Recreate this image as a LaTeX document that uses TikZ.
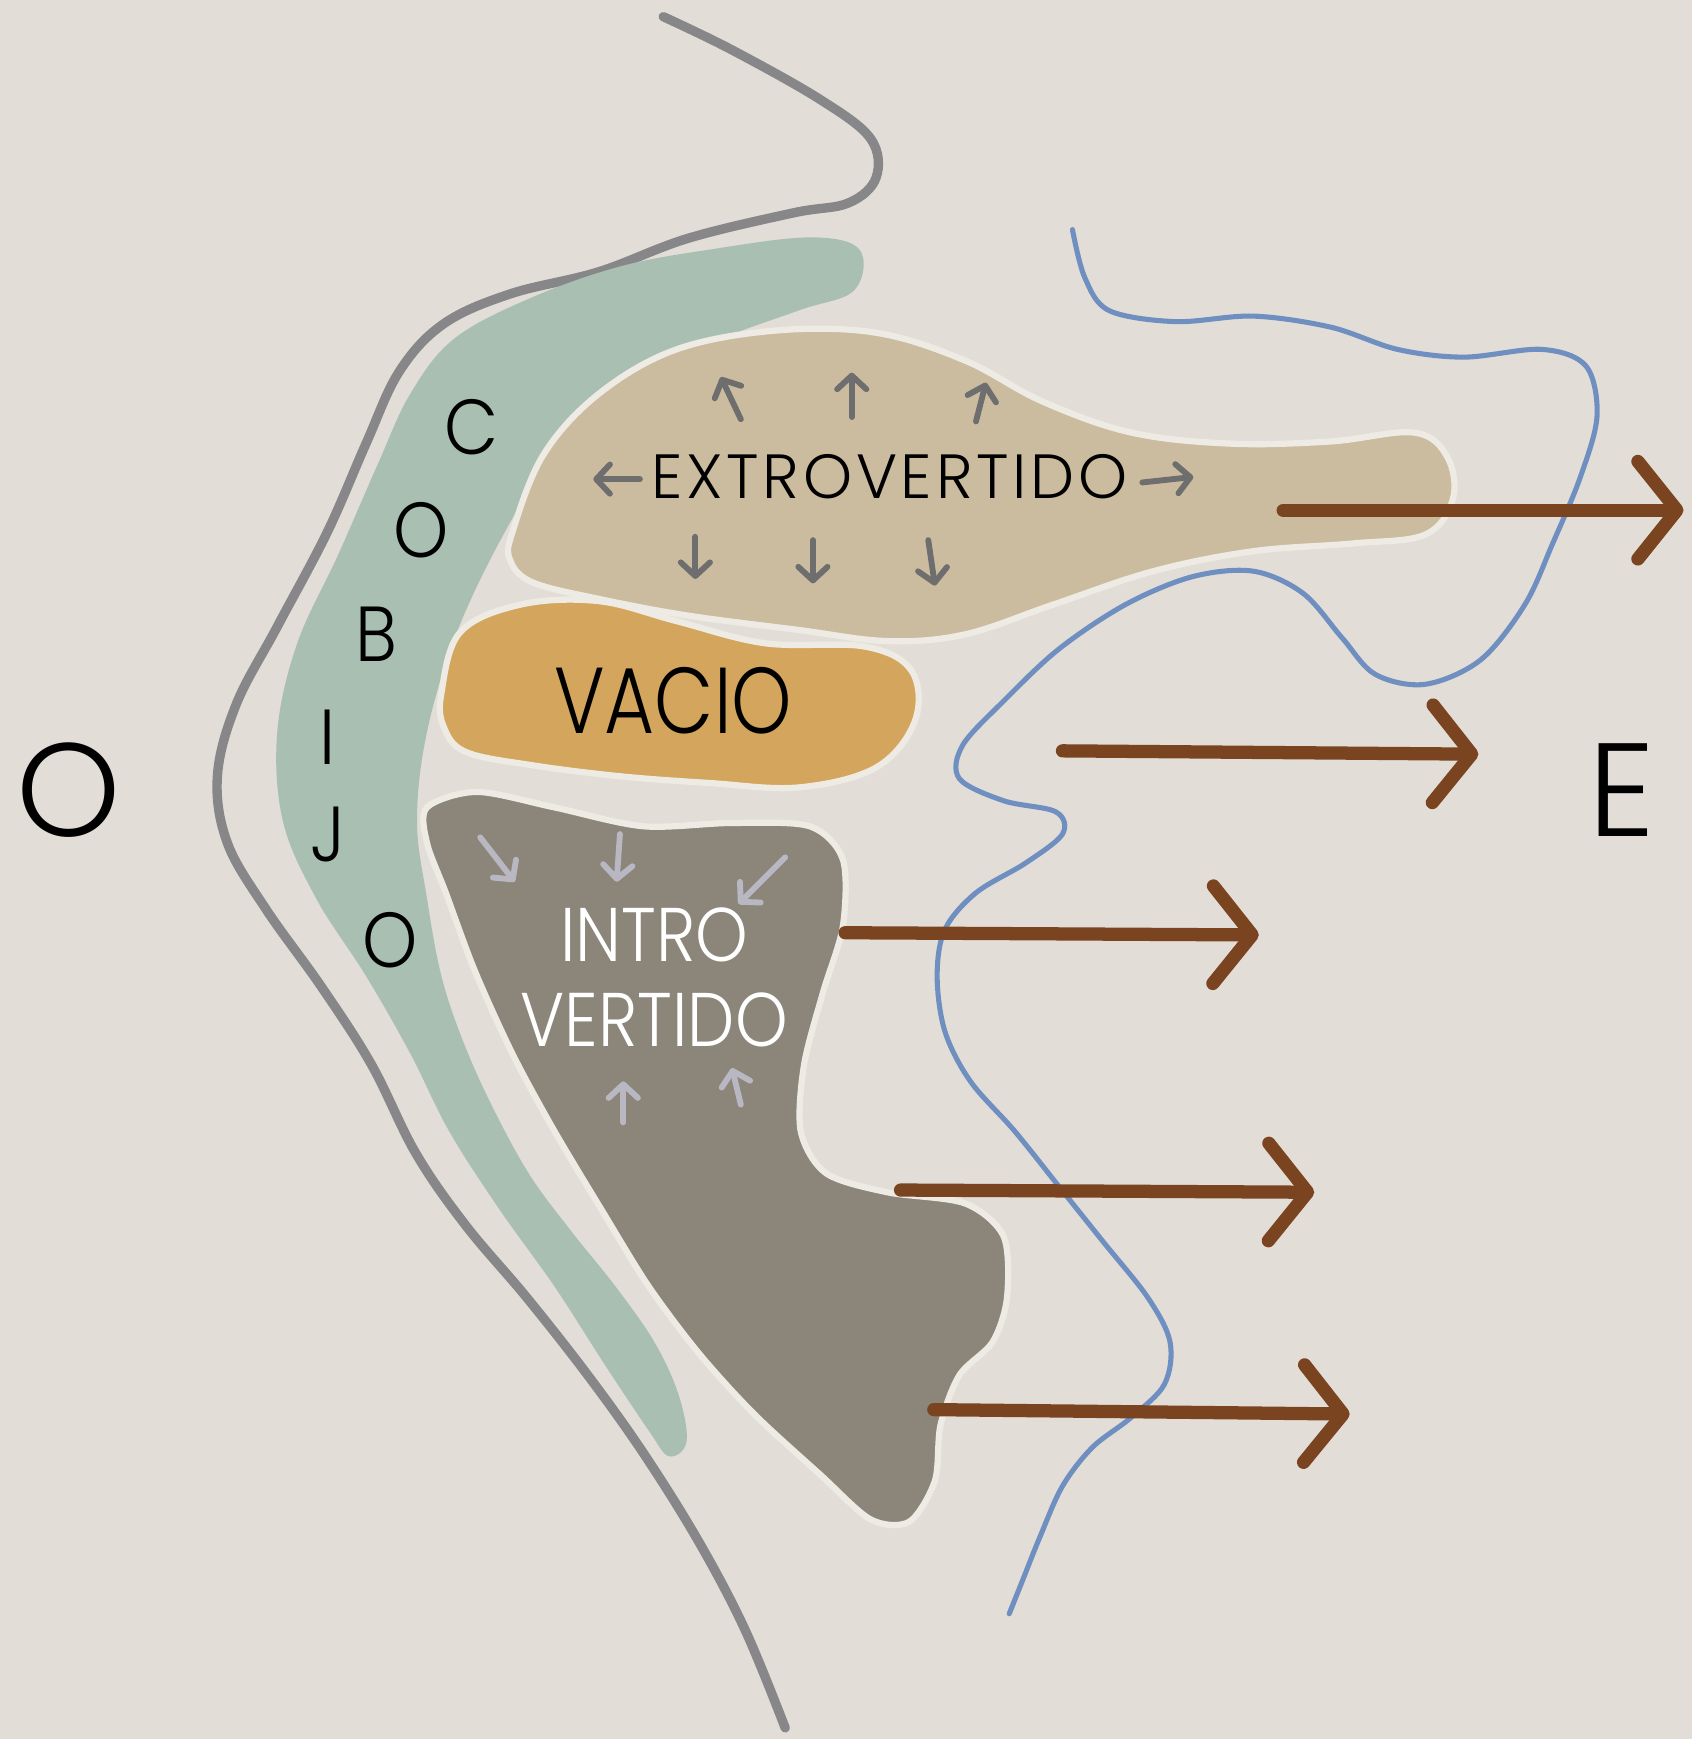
\documentclass[tikz,border=0pt]{standalone}
\usepackage{fontspec}
\setmainfont{Poppins}[UprightFont=* Light]
\usetikzlibrary{arrows.meta}
\definecolor{bgc}{HTML}{E2DDD7}
\definecolor{halo}{HTML}{EEEAE4}
\definecolor{greyline}{HTML}{87878A}
\definecolor{greenband}{HTML}{A8BFB2}
\definecolor{tanblob}{HTML}{CBBC9F}
\definecolor{ochre}{HTML}{D4A55C}
\definecolor{intro}{HTML}{8B857A}
\definecolor{blueline}{HTML}{6F8FC0}
\definecolor{brownarr}{HTML}{7A4420}
\definecolor{smallarr}{HTML}{6E6E6E}
\definecolor{lightarr}{HTML}{B9B8C2}
\tikzset{
  blob/.style={draw=halo, line width=1.6pt},
  bigarrow/.style={draw=brownarr, line width=3.4pt, line cap=round,
    -{Straight Barb[length=10pt,width=25pt,round]}},
  outarrow/.style={draw=smallarr, line width=1.5pt, line cap=round,
    -{Straight Barb[length=3.5pt,width=7.5pt,round]}},
  inarrow/.style={draw=lightarr, line width=1.5pt, line cap=round,
    -{Straight Barb[length=3.5pt,width=7.5pt,round]}},
  bigletter/.style={font=\fontsize{34}{34}\selectfont, text=black},
  bandletter/.style={font=\fontsize{20}{20}\selectfont\addfontfeature{FakeStretch=0.9}, text=black},
}
\begin{document}
\begin{tikzpicture}[x=0.01cm,y=-0.01cm]
\fill[bgc] (0,0) rectangle (1526,1568);
\useasboundingbox (0,0) rectangle (1526,1568);

% grey outer line
\draw[greyline, line width=2.4pt, line cap=round]
  plot[smooth, tension=0.6] coordinates {
  (598,15) (660,45) (740,90) (785,125) (790,160) (765,183) (715,192)
  (620,215) (540,245) (460,265) (400,292) (360,335) (330,400)
  (295,480) (250,565) (213,635) (196,700) (205,760) (240,820)
  (290,890) (335,960) (375,1040) (420,1105) (475,1170) (530,1240)
  (580,1310) (630,1390) (672,1470) (708,1558)};

% green band
\fill[greenband] plot[smooth cycle, tension=0.6] coordinates {
  (775,225) (730,214) (640,225) (560,240) (480,268) (410,305) (370,355)
  (340,420) (305,500) (268,580) (250,660) (255,740) (285,810)
  (330,880) (370,950) (405,1020) (450,1090) (500,1160) (545,1230)
  (585,1290) (603,1313) (619,1300) (612,1258) (590,1210) (555,1160)
  (515,1110) (478,1060) (445,1000) (418,940) (398,880) (385,810)
  (376,740) (385,660) (412,570)
  (455,480) (500,410) (560,355) (640,310) (720,280) (770,262)};

% blue line
\draw[blueline, line width=1.3pt, line cap=round]
  plot[smooth, tension=0.55] coordinates {
  (967,207) (978,250) (1000,280) (1060,290) (1130,285) (1200,295)
  (1260,315) (1320,322) (1390,315) (1430,330) (1440,375) (1425,430)
  (1400,490) (1375,545) (1335,595) (1285,617) (1240,608) (1210,575)
  (1175,535) (1130,515) (1075,520) (1015,545) (955,585) (905,632)
  (868,672) (865,702) (905,722) (952,732) (958,752) (925,778)
  (880,805) (852,838) (845,880) (852,930) (875,975) (915,1020)
  (955,1070) (995,1120) (1035,1170) (1055,1210) (1050,1248)
  (1020,1278) (985,1305) (958,1340) (938,1385) (922,1425) (910,1455)};

% extrovertido blob
\filldraw[blob, fill=tanblob] plot[smooth cycle, tension=0.6] coordinates {
  (462,480) (490,410) (540,355) (610,315) (700,298) (790,300)
  (870,325) (940,362) (1020,390) (1110,400) (1200,398) (1275,390)
  (1305,412) (1310,450) (1285,482) (1220,490) (1130,497) (1040,515)
  (950,545) (870,572) (800,578) (720,568) (620,555) (540,540)
  (480,525) (460,505)};

% vacio blob
\filldraw[blob, fill=ochre] plot[smooth cycle, tension=0.6] coordinates {
  (398,625) (415,570) (470,545) (540,542) (610,560) (690,580)
  (780,583) (822,605) (825,650) (790,692) (720,710) (640,706)
  (560,700) (480,690) (420,678) (400,655)};

% introvertido blob
\filldraw[blob, fill=intro] plot[smooth cycle, tension=0.5] coordinates {
  (385,728) (430,714) (500,728) (580,745) (660,742) (730,745)
  (760,775) (760,835) (742,895) (725,960) (722,1020) (745,1058)
  (800,1075) (870,1085) (905,1115) (908,1170) (895,1210) (865,1240)
  (848,1285) (843,1335) (820,1372) (785,1370) (740,1330)
  (680,1275) (630,1220) (585,1160) (545,1095) (500,1020)
  (462,950) (428,875) (402,805) (385,760)};

% small arrows: extrovertido (outward)
\draw[outarrow] (668,378) -- (650,340);
\draw[outarrow] (768,376) -- (768,336);
\draw[outarrow] (880,380) -- (889,345);
\draw[outarrow] (577,432) -- (535,432);
\draw[outarrow] (1030,435) -- (1076,430);
\draw[outarrow] (627,484) -- (627,522);
\draw[outarrow] (733,487) -- (733,526);
\draw[outarrow] (837,487) -- (843,528);

% small arrows: introvertido (inward)
\draw[inarrow] (433,755) -- (464,795);
\draw[inarrow] (559,752) -- (556,795);
\draw[inarrow] (708,773) -- (666,815);
\draw[inarrow] (562,1012) -- (562,975);
\draw[inarrow] (668,996) -- (660,963);

% labels
\node[bigletter] (oleft) at (62,712) {O};
\node[bigletter] (eright) at (1462,712) {E};
\node[bandletter] (c1) at (425,385) {C};
\node[bandletter] (c2) at (380,478) {O};
\node[bandletter] (c3) at (339,572) {B};
\node[bandletter] (c4) at (295,665) {I};
\node[bandletter] (c5) at (296,752) {J};
\node[bandletter] (c6) at (352,848) {O};
\node[font=\fontsize{16}{16}\selectfont\addfontfeature{LetterSpace=6}, text=black] (extro) at (802,430) {EXTROVERTIDO};
\node[font=\fontsize{24}{24}\selectfont\addfontfeature{FakeStretch=0.82}, text=black] (vacio) at (607,632) {VACIO};
\node[font=\fontsize{19.5}{19.5}\selectfont\addfontfeature{FakeStretch=0.88}, text=white] (intro1) at (590,843) {INTRO};
\node[font=\fontsize{19.5}{19.5}\selectfont\addfontfeature{FakeStretch=0.88}, text=white] (intro2) at (590,920) {VERTIDO};

% big brown arrows
\coordinate (a1s) at (1157,460); \coordinate (a1e) at (1518,460);
\coordinate (a2s) at (958,677);  \coordinate (a2e) at (1333,680);
\coordinate (a3s) at (762,841);  \coordinate (a3e) at (1135,843);
\coordinate (a4s) at (812,1073); \coordinate (a4e) at (1185,1075);
\coordinate (a5s) at (842,1271); \coordinate (a5e) at (1217,1275);
\draw[bigarrow] (a1s) -- (a1e);
\draw[bigarrow] (a2s) -- (a2e);
\draw[bigarrow] (a3s) -- (a3e);
\draw[bigarrow] (a4s) -- (a4e);
\draw[bigarrow] (a5s) -- (a5e);
\end{tikzpicture}
\end{document}
